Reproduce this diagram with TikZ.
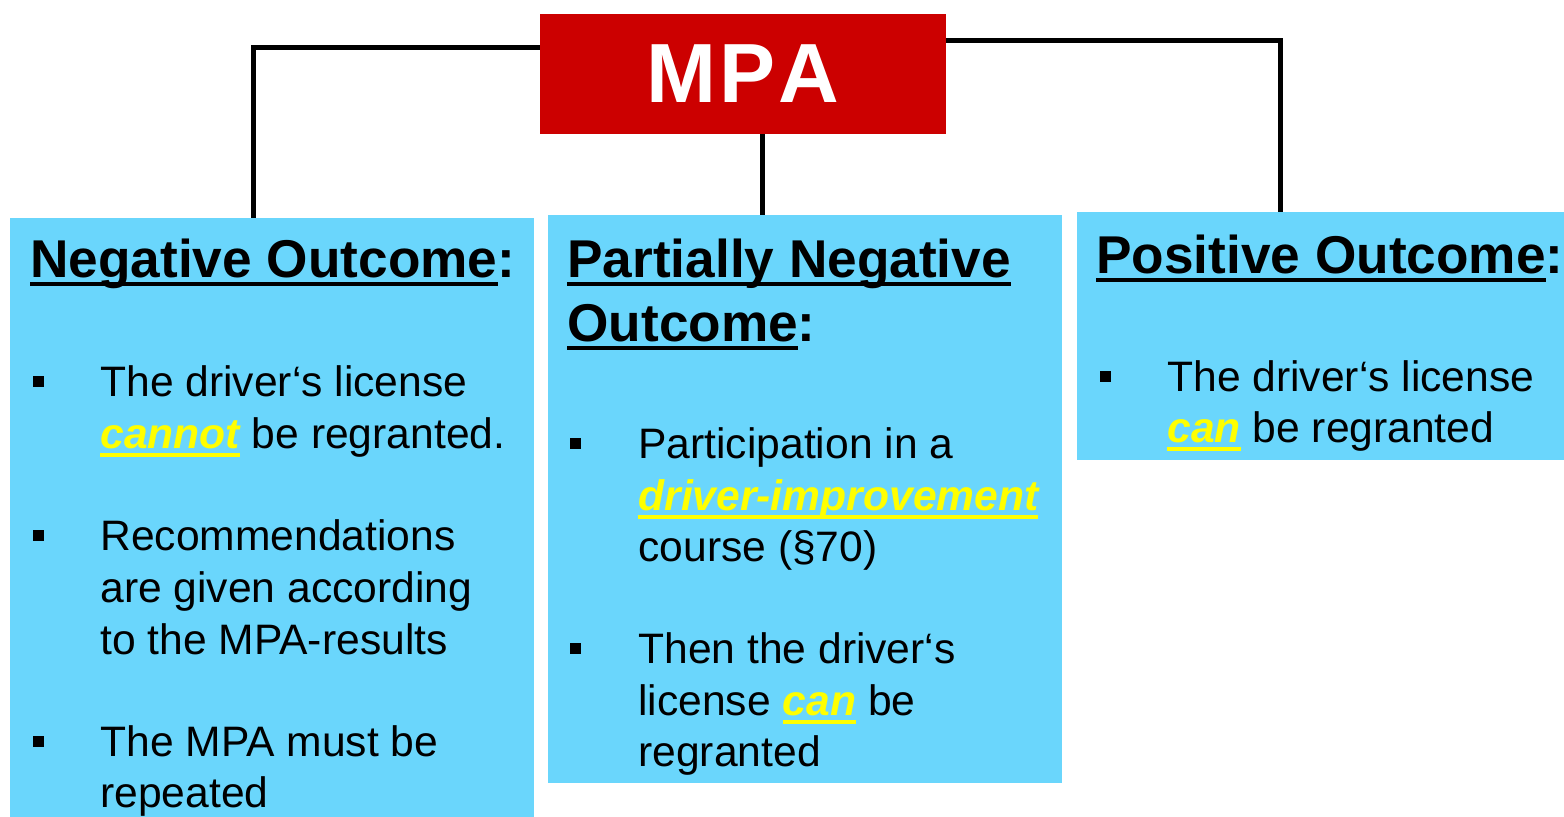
\documentclass[tikz,border=0pt]{standalone}
\usepackage{fontspec}
\setmainfont{Liberation Sans}
\usetikzlibrary{positioning}
\definecolor{mpared}{HTML}{CC0000}
\definecolor{boxblue}{HTML}{6AD6FC}
\definecolor{hiyellow}{HTML}{FFFF00}
\newsavebox{\ulbox}
\newcommand{\ulbar}[2][black]{\sbox{\ulbox}{#2}\rlap{\color{#1}\rule[-4pt]{\wd\ulbox}{2.2pt}}\usebox{\ulbox}}
\newcommand{\hi}[1]{\ulbar[hiyellow]{\textcolor{hiyellow}{\bfseries\itshape #1}}}
\newcommand{\bodyfont}{\fontsize{21.3}{26}\selectfont}
\newcommand{\headfont}{\fontsize{26.6}{32}\selectfont\bfseries}

\begin{document}
\begin{tikzpicture}[x=0.5pt,y=-0.5pt,
    box/.style={fill=boxblue, inner sep=0pt, anchor=north west},
    txt/.style={anchor=base west, inner sep=0pt, font=\bodyfont},
    head/.style={anchor=base west, inner sep=0pt, font=\headfont},
    bul/.style={fill=black, inner sep=0pt, minimum size=5.5pt},
    link/.style={line width=2.5pt}]
    \useasboundingbox (0,0) rectangle (1564,817);

    \node (mpa) [fill=mpared, text=white, minimum width=203pt, minimum height=60pt,
      font=\fontsize{42}{48}\selectfont\bfseries] at (743,74) {M\kern1.5pt P\kern1.5pt A};

    % outcome boxes
    \node (neg) [box, minimum width=262pt, minimum height=299.5pt] at (10,218) {};
    \node (mid) [box, minimum width=257pt, minimum height=284pt] at (548,215) {};
    \node (pos) [box, minimum width=243.5pt, minimum height=124pt] at (1077,212) {};

    \draw[link] ([yshift=13pt]mpa.west) -| ([xshift=-9.5pt]neg.north);
    \draw[link] ([xshift=9.5pt]mpa.south) -- ([xshift=9.5pt]mpa.south |- mid.north);
    \draw[link] ([yshift=16.5pt]mpa.east) -| ([xshift=-20.25pt]pos.north);

    % negative
    \node (negh) [head] at (30,278) {\ulbar{Negative Outcome}:};
    \node (nb1) [bul] at (38,382) {};
    \node (n1) [txt] at (100,397) {The driver‘s license};
    \node (n2) [txt] at (100,449) {\hi{cannot} be regranted.};
    \node (nb2) [bul] at (38,536) {};
    \node (n3) [txt] at (100,551) {Recommendations};
    \node (n4) [txt] at (100,603) {are given according};
    \node (n5) [txt] at (100,654) {to the MPA-results};
    \node (nb3) [bul] at (38,741) {};
    \node (n6) [txt] at (100,756) {The MPA must be};
    \node (n7) [txt] at (100,807) {repeated};

    % partially negative
    \node (midh1) [head] at (567,278) {\ulbar{Partially Negative}};
    \node (midh2) [head] at (567,342) {\ulbar{Outcome}:};
    \node (mb1) [bul] at (575,444) {};
    \node (m1) [txt] at (638,459) {Participation in a};
    \node (m2) [txt] at (638,511) {\hi{driver-improvement}};
    \node (m3) [txt] at (638,562) {course (§70)};
    \node (mb2) [bul] at (575,649) {};
    \node (m4) [txt] at (638,664) {Then the driver‘s};
    \node (m5) [txt] at (638,716) {license \hi{can} be};
    \node (m6) [txt] at (638,767) {regranted};

    % positive
    \node (posh) [head] at (1096,274) {\ulbar{Positive Outcome}:};
    \node (pb1) [bul] at (1105,377) {};
    \node (p1) [txt] at (1167,392) {The driver‘s license};
    \node (p2) [txt] at (1167,443) {\hi{can} be regranted};
\end{tikzpicture}
\end{document}
